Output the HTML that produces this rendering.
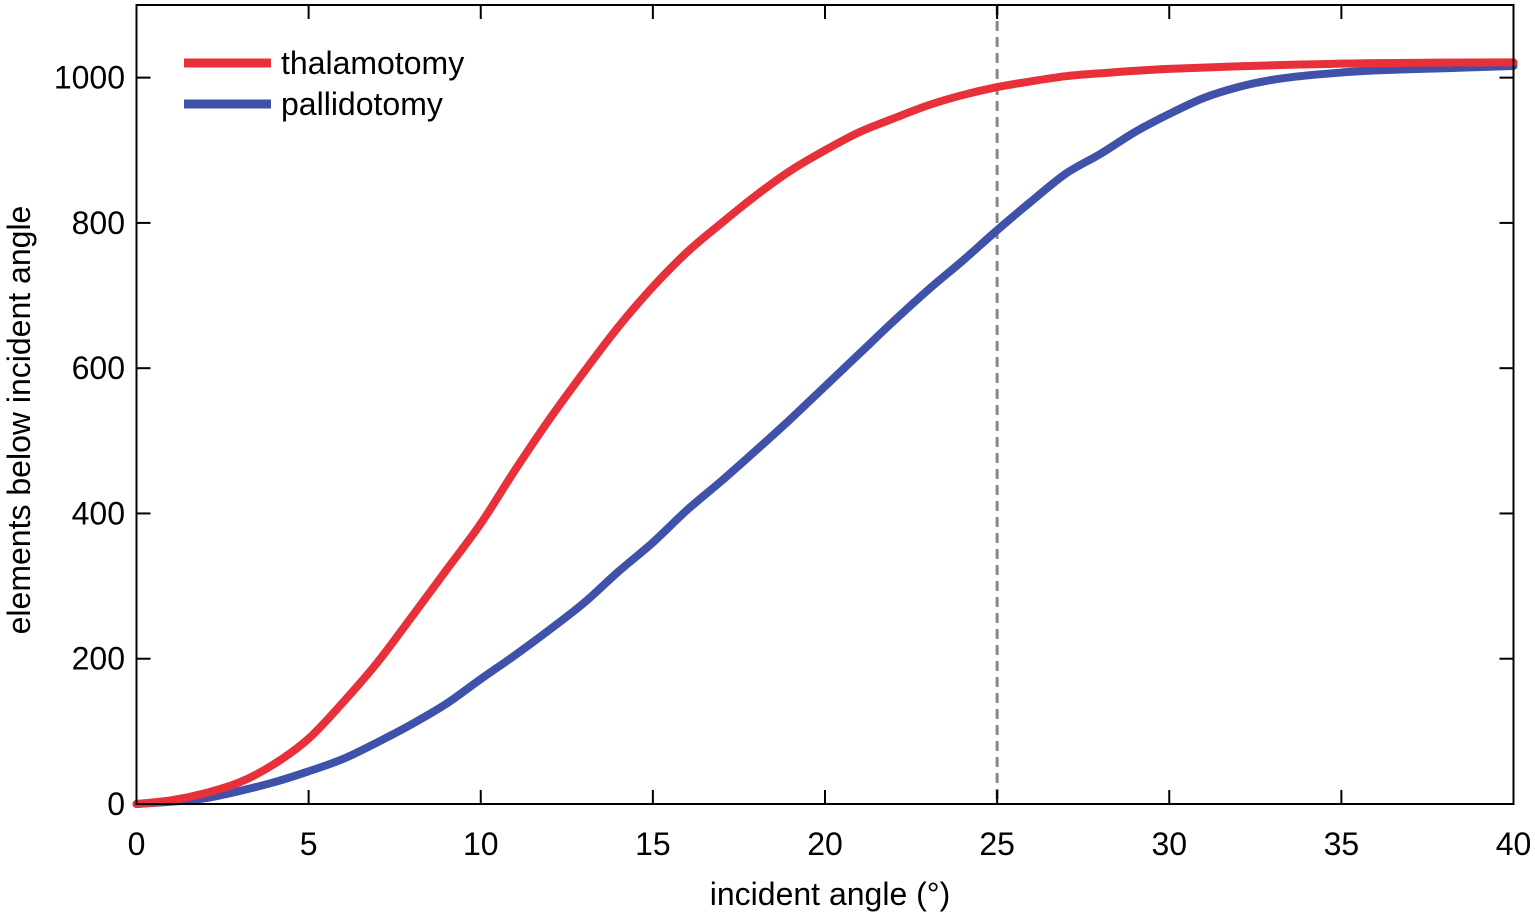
<!DOCTYPE html>
<html><head><meta charset="utf-8"><style>
body{margin:0;background:#fff}
svg{display:block;font-family:"Liberation Sans",Arial,sans-serif}
</style></head><body>
<svg id="chart" width="1535" height="917">
<g id="g"></g>
</svg>
<script>
const xs=[0,1,2,3,4,5,6,7,8,9,10,11,12,13,14,15,16,17,18,19,20,21,22,23,24,25,26,27,28,30,33,36,40];
const thal=[0,5,15,30,55,90,140,195,258,322,386,460,530,595,657,712,760,800,838,872,900,925,944,962,976,987,995,1002,1006,1012,1017,1020,1021];
const xsB=[0,1,2,3,4,5,6,7,8,9,10,11,12,13,14,15,16,17,18,19,20,21,22,23,24,25,26,27,28,29,30,31,32,33,34,35,36,38,40];
const pall=[0,3,8,18,30,45,62,85,110,138,172,205,240,277,320,360,405,445,487,530,575,620,665,708,748,790,830,868,895,925,950,972,987,997,1003,1007,1010,1013,1016];
const xTicks=[0,5,10,15,20,25,30,35,40];
const yTicks=[0,200,400,600,800,1000];
const L=136.5,R=1513.5,T=5,B=804;
const X=v=>L+v*(R-L)/40, Y=v=>B-v*(B-T)/1100;
const ns="http://www.w3.org/2000/svg", g=document.getElementById('g');
function el(t,a,p){const e=document.createElementNS(ns,t);for(const k in a)e.setAttribute(k,a[k]);(p||g).appendChild(e);return e;}
let d=el('line',{x1:X(25),x2:X(25),y1:T,y2:B,stroke:'#888','stroke-width':3,'stroke-dasharray':'10,6'});


function smooth(pts){let s='M'+pts[0][0]+','+pts[0][1];for(let i=0;i<pts.length-1;i++){const p0=pts[i-1]||pts[i],p1=pts[i],p2=pts[i+1],p3=pts[i+2]||p2;
s+='C'+(p1[0]+(p2[0]-p0[0])/6)+','+(p1[1]+(p2[1]-p0[1])/6)+' '+(p2[0]-(p3[0]-p1[0])/6)+','+(p2[1]-(p3[1]-p1[1])/6)+' '+p2[0]+','+p2[1];}return s;}
function series(xa,ya,c,name){const p=el('path',{d:smooth(xa.map((x,i)=>[X(x),Y(ya[i])])),fill:'none',stroke:c,'stroke-width':8,'stroke-linejoin':'round','stroke-linecap':'round'});

}
series(xsB,pall,'#3f51a8','pallidotomy-line');
series(xs,thal,'#e8303a','thalamotomy-line');
let fr=el('rect',{x:L,y:T,width:R-L,height:B-T,fill:'none',stroke:'#000','stroke-width':2});


xTicks.forEach(v=>{el('line',{x1:X(v),x2:X(v),y1:B,y2:B-14,stroke:'#000','stroke-width':2});el('line',{x1:X(v),x2:X(v),y1:T,y2:T+14,stroke:'#000','stroke-width':2});
const t=el('text',{x:X(v),y:855,'text-anchor':'middle','font-size':32});t.textContent=v;

});
yTicks.forEach(v=>{el('line',{x1:L,x2:L+14,y1:Y(v),y2:Y(v),stroke:'#000','stroke-width':2});el('line',{x1:R,x2:R-14,y1:Y(v),y2:Y(v),stroke:'#000','stroke-width':2});
const t=el('text',{x:125,y:Y(v)+11,'text-anchor':'end','font-size':32});t.textContent=v;

});
let xt=el('text',{x:830,y:905,'text-anchor':'middle','font-size':32});xt.textContent='incident angle (°)';


let yt=el('text',{x:30,y:420,'text-anchor':'middle','font-size':32,transform:'rotate(-90 30 420)'});yt.textContent='elements below incident angle';


[['thalamotomy','#e8303a',63],['pallidotomy','#3f51a8',104]].forEach(([n,c,y])=>{
const lg=el('g',{});


el('line',{x1:184,x2:271,y1:y,y2:y,stroke:c,'stroke-width':9},lg);
const t=el('text',{x:281,y:y+11,'font-size':32},lg);t.textContent=n;});
</script>
</body></html>
